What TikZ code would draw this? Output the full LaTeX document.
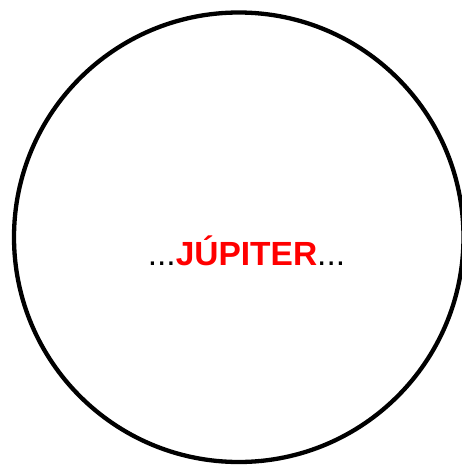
\documentclass[tikz,border=0pt]{standalone}
\usepackage{fontspec}
\setmainfont{Liberation Sans}
\usetikzlibrary{positioning}

\begin{document}
\begin{tikzpicture}[
    x=1pt, y=1pt,
    orbit/.style={draw, circle, line width=4.3pt, minimum size=449.5pt, inner sep=0pt},
    label/.style={font=\fontsize{33.5}{36}\selectfont, anchor=base, inner sep=0pt}
]
\useasboundingbox (0,0) rectangle (462,-466);
\node[orbit] (ring) at (238.75,-237.25) {};
\node[label] (name) at (246.5,-265) {...{\color{red}\bfseries JÚPITER}...};
\end{tikzpicture}
\end{document}
